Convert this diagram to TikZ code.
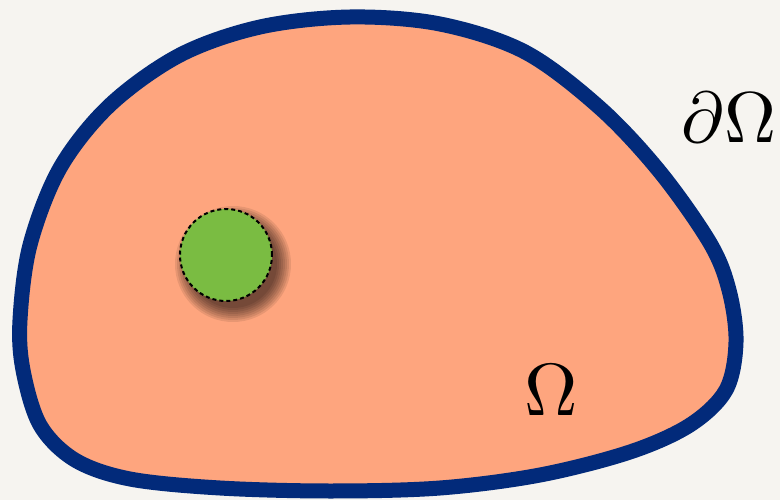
\documentclass[tikz,border=0pt]{standalone}
\usepackage{graphicx}
\definecolor{bgc}{RGB}{246,244,240}
\definecolor{salmon}{RGB}{254,165,126}
\definecolor{navy}{RGB}{2,42,122}
\definecolor{grn}{RGB}{122,188,66}
\tikzset{
  lbl/.style={inner sep=0pt},
  holebox/.style={circle, minimum size=92pt, inner sep=0pt, fill=grn, draw=black,
    line width=2pt, dash pattern=on 4pt off 3pt},
  shadelayer/.style={fill=black, opacity=0.09},
  blobstyle/.style={fill=salmon, draw=navy, line width=15pt, line join=round}
}
\begin{document}
\begin{tikzpicture}[x=1pt,y=-1pt]
\fill[bgc] (0,0) rectangle (780,500);
\useasboundingbox (0,0) rectangle (780,500);
\draw[blobstyle] plot[smooth cycle, tension=0.55] coordinates {
 (350,17) (440,24) (525,52) (600,108) (660,172) (710,243) (729,290) (736,342)
 (726,390) (690,425) (630,452) (540,475) (440,488) (330,491) (220,488) (130,479)
 (75,460) (40,425) (23,370) (20,320) (30,245) (60,168) (110,105) (180,55) (260,27)};
\coordinate (hc) at (226,255);
\foreach \r in {58,56,...,44} {
  \fill[shadelayer] ([shift={(7,9)}]hc) circle (\r pt);
}
\node[holebox] (h) at (hc) {};
\node[lbl] (bd) at (729,118) {\scalebox{7.2}{$\partial\Omega$}};
\node[lbl] (om) at (551,390) {\scalebox{7.4}{$\Omega$}};
\end{tikzpicture}
\end{document}
